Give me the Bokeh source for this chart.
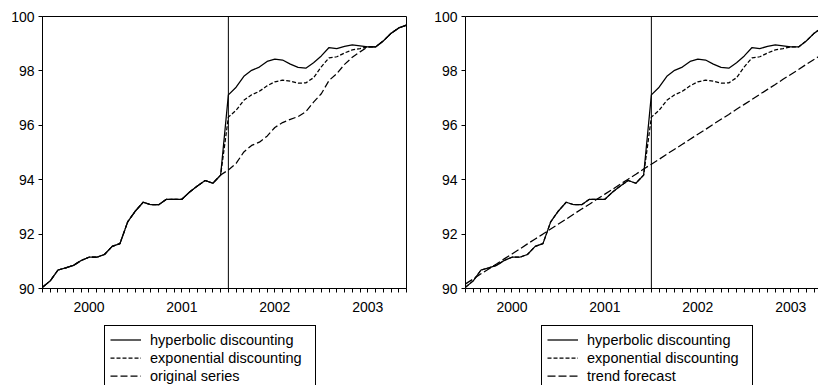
from bokeh.plotting import figure
from bokeh.models import Range1d, FixedTicker, Span, Legend, LegendItem, LinearAxis
from bokeh.layouts import row, column
from bokeh.embed import file_html
from bokeh.resources import INLINE

# monthly observations, Jan 2000 .. Dec 2003 (index 0..47)
months = list(range(48))
year_labels = ["2000", "2001", "2002", "2003"]
year_mids = [6, 18, 30, 42]
break_month = 24

hyperbolic = [90.05, 90.28, 90.68, 90.76, 90.85, 91.03, 91.15, 91.15, 91.25, 91.55, 91.65, 92.45,
              92.85, 93.17, 93.08, 93.08, 93.28, 93.28, 93.28, 93.55, 93.77, 93.97, 93.87, 94.17,
              97.12, 97.40, 97.80, 98.02, 98.14, 98.35, 98.43, 98.40, 98.25, 98.13, 98.10, 98.30,
              98.55, 98.86, 98.82, 98.90, 98.96, 98.92, 98.88, 98.88, 99.10, 99.38, 99.58, 99.68]

exponential = [90.05, 90.28, 90.68, 90.76, 90.85, 91.03, 91.15, 91.15, 91.25, 91.55, 91.65, 92.45,
               92.85, 93.17, 93.08, 93.08, 93.28, 93.28, 93.28, 93.55, 93.77, 93.97, 93.87, 94.17,
               96.30, 96.55, 96.92, 97.12, 97.25, 97.45, 97.60, 97.66, 97.62, 97.55, 97.56, 97.75,
               98.15, 98.48, 98.52, 98.66, 98.77, 98.82, 98.88, 98.88, 99.10, 99.38, 99.58, 99.68]

original = [90.05, 90.28, 90.68, 90.76, 90.85, 91.03, 91.15, 91.15, 91.25, 91.55, 91.65, 92.45,
            92.85, 93.17, 93.08, 93.08, 93.28, 93.28, 93.28, 93.55, 93.77, 93.97, 93.87, 94.17,
            94.36, 94.60, 95.02, 95.26, 95.38, 95.60, 95.92, 96.10, 96.22, 96.32, 96.50, 96.85,
            97.16, 97.65, 97.90, 98.24, 98.50, 98.70, 98.88, 98.88, 99.10, 99.38, 99.58, 99.68]

trend = [90.17, 90.35, 90.54, 90.72, 90.90, 91.09, 91.27, 91.45, 91.64, 91.82, 92.00, 92.19,
         92.37, 92.55, 92.74, 92.92, 93.10, 93.29, 93.47, 93.65, 93.84, 94.02, 94.20, 94.39,
         94.57, 94.75, 94.94, 95.12, 95.30, 95.49, 95.67, 95.85, 96.04, 96.22, 96.40, 96.59,
         96.77, 96.95, 97.14, 97.32, 97.50, 97.69, 97.87, 98.05, 98.24, 98.42, 98.60, 98.79]

y_ticks = [90, 92, 94, 96, 98, 100]

FONT = "Liberation Sans"
DASH_EXP = "4 2"
LW = 1.25


def make_panel(x_end, border_left, border_right, third_series, third_dash, full_outline):
    p = figure(frame_width=int(round(x_end * 364 / 47)), frame_height=272,
               x_range=Range1d(0, x_end), y_range=Range1d(90, 100),
               output_backend="svg", toolbar_location=None,
               min_border_left=border_left, min_border_right=border_right,
               min_border_top=16, min_border_bottom=32,
               background_fill_color="white", border_fill_color="white")
    p.xgrid.visible = False
    p.ygrid.visible = False
    p.outline_line_color = "black" if full_outline else None
    p.outline_line_width = 1
    p.outline_line_alpha = 1

    ya = p.yaxis[0]
    ya.ticker = FixedTicker(ticks=y_ticks, minor_ticks=[])
    ya.major_tick_out = 4
    ya.major_tick_in = 0
    ya.minor_tick_out = 0
    ya.minor_tick_in = 0
    ya.major_label_standoff = 4
    ya.major_label_text_font = FONT
    ya.major_label_text_font_size = "14px"
    ya.major_label_text_color = "black"
    ya.axis_line_color = "black"
    ya.major_tick_line_color = "black"

    xa = p.xaxis[0]
    xa.ticker = FixedTicker(ticks=year_mids, minor_ticks=months)
    xa.major_label_overrides = {m: y for m, y in zip(year_mids, year_labels)}
    xa.major_tick_out = 0
    xa.major_tick_in = 0
    xa.minor_tick_out = 4
    xa.minor_tick_in = 0
    xa.major_label_standoff = 9
    xa.major_label_text_font = FONT
    xa.major_label_text_font_size = "14px"
    xa.major_label_text_color = "black"
    xa.axis_line_color = "black"
    xa.major_tick_line_color = None
    xa.minor_tick_line_color = "black"

    if not full_outline:
        top = LinearAxis(ticker=FixedTicker(ticks=[], minor_ticks=[]),
                         major_tick_out=0, major_tick_in=0, minor_tick_out=0, minor_tick_in=0,
                         major_label_standoff=0, axis_line_color="black")
        p.add_layout(top, "above")

    p.add_layout(Span(location=break_month, dimension="height", line_color="black", line_width=1))

    p.line(months, hyperbolic, line_color="black", line_width=LW)
    p.line(months, exponential, line_color="black", line_width=LW, line_dash=DASH_EXP)
    p.line(months, third_series, line_color="black", line_width=LW, line_dash=third_dash)
    return p


def make_legend(width, third_label, third_series, third_dash, legend_x):
    # a strip holding only the legend; its series lie outside its (0, 1) range
    q = figure(width=width, height=65, x_range=Range1d(0, 1), y_range=Range1d(0, 1),
               output_backend="svg", toolbar_location=None,
               x_axis_location=None, y_axis_location=None,
               min_border=0, min_border_left=0, min_border_right=0,
               min_border_top=0, min_border_bottom=0,
               outline_line_color=None,
               background_fill_color="white", border_fill_color="white")
    q.xgrid.visible = False
    q.ygrid.visible = False
    r1 = q.line(months, hyperbolic, line_color="black", line_width=LW)
    r2 = q.line(months, exponential, line_color="black", line_width=LW, line_dash=DASH_EXP)
    r3 = q.line(months, third_series, line_color="black", line_width=LW, line_dash=third_dash)
    legend = Legend(items=[LegendItem(label="hyperbolic discounting", renderers=[r1]),
                           LegendItem(label="exponential discounting", renderers=[r2]),
                           LegendItem(label=third_label, renderers=[r3])],
                    location=(legend_x, -5),
                    orientation="vertical", margin=0, padding=5, spacing=1,
                    glyph_width=31, glyph_height=17, label_height=17, label_width=160,
                    label_standoff=9,
                    label_text_font=FONT, label_text_font_size="14.5px",
                    label_text_color="black",
                    border_line_color="black", border_line_width=1, border_line_alpha=1,
                    background_fill_color="white", background_fill_alpha=1)
    q.add_layout(legend, "center")
    return q


left = make_panel(47, 42, 14, original, "7 3", True)
right = make_panel(45.58, 45, 0, trend, "8 3", False)
left_leg = make_legend(420, "original series", original, "7 3", 104)
right_leg = make_legend(398, "trend forecast", trend, "8 3", 121)

layout = column(row(left, right), row(left_leg, right_leg))
open("out.html", "w").write(file_html(layout, INLINE))
